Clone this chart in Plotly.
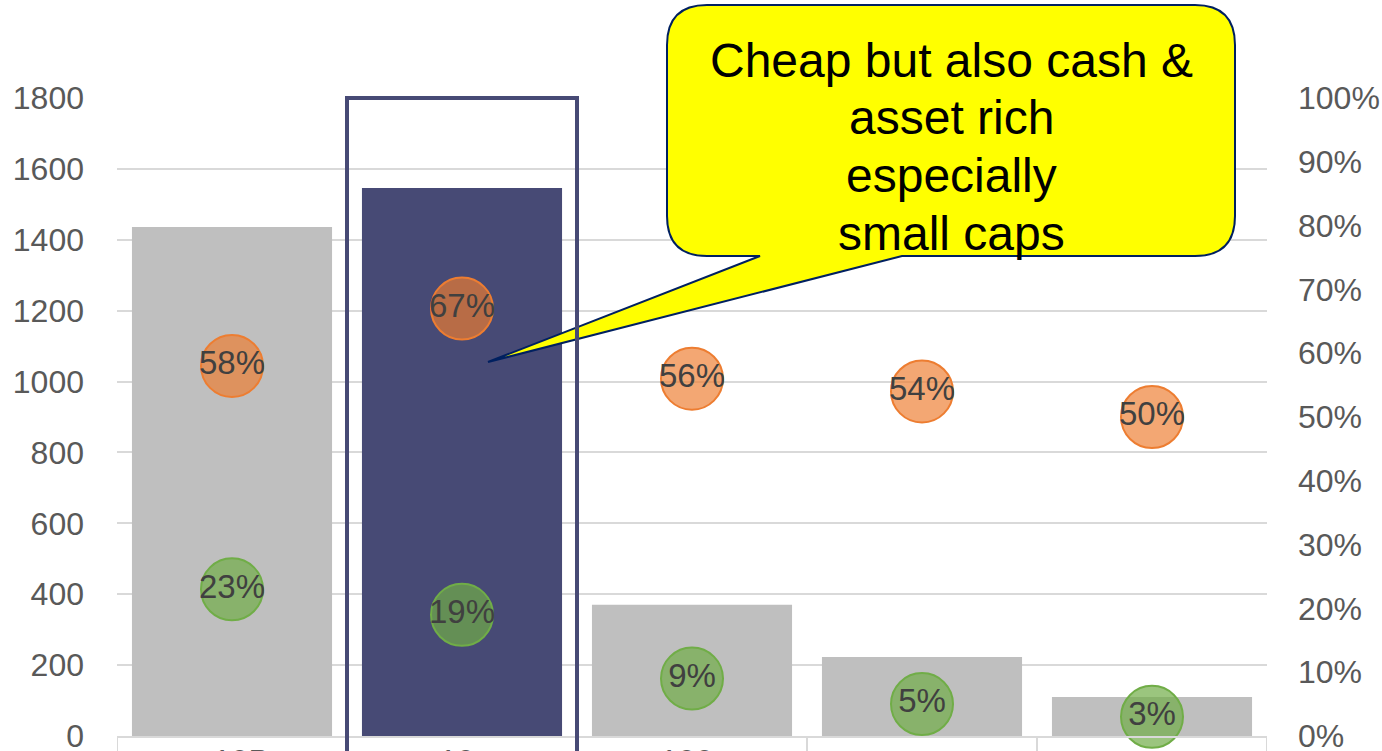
import plotly.graph_objects as go

categories = ["<10B", "10-<br>50B", "100-<br>500B", "<br>500B-1T", "<br>>1T"]
bar_values = [1436, 1546, 370, 223, 110]
bar_colors = ["#BFBFBF", "#474A75", "#BFBFBF", "#BFBFBF", "#BFBFBF"]
orange_pct = [0.58, 0.67, 0.56, 0.54, 0.50]
green_pct = [0.23, 0.19, 0.09, 0.05, 0.03]
left_ticks = [0, 200, 400, 600, 800, 1000, 1200, 1400, 1600, 1800]
right_ticks = [i / 10 for i in range(11)]
callout_lines = ["Cheap but also cash &", "asset rich", "especially", "small caps"]

W, H = 1382, 751
L, R, T, B = 117, 1267, 98, 736
FONT = "Arial, Liberation Sans, sans-serif"


def px(x):
    return (x - L) / (R - L)


def py(y):
    return (B - y) / (B - T)


fig = go.Figure()
fig.add_trace(go.Bar(x=categories, y=bar_values, marker=dict(color=bar_colors, line=dict(width=0)),
                     width=0.87, showlegend=False, hoverinfo="skip"))
fig.add_trace(go.Scatter(x=categories, y=orange_pct, yaxis="y2", mode="markers+text",
                         text=[f"{round(v*100)}%" for v in orange_pct], textposition="middle center",
                         textfont=dict(size=33, color="#404040", family=FONT),
                         marker=dict(size=62, color="rgba(237,125,49,0.68)", line=dict(color="#ED7D31", width=2)),
                         cliponaxis=False, showlegend=False))
fig.add_trace(go.Scatter(x=categories, y=green_pct, yaxis="y2", mode="markers+text",
                         text=[f"{round(v*100)}%" for v in green_pct], textposition="middle center",
                         textfont=dict(size=33, color="#404040", family=FONT),
                         marker=dict(size=62, color="rgba(112,173,71,0.70)", line=dict(color="#70AD47", width=2)),
                         cliponaxis=False, showlegend=False))

# callout bubble
l, r, t, b, rad = 667, 1235, 5, 256, 40
path = (f"M {px(l+rad)},{py(t)} L {px(r-rad)},{py(t)} Q {px(r)},{py(t)} {px(r)},{py(t+rad)} "
        f"L {px(r)},{py(b-rad)} Q {px(r)},{py(b)} {px(r-rad)},{py(b)} "
        f"L {px(902)},{py(b)} L {px(488)},{py(362)} L {px(760)},{py(b)} "
        f"L {px(l+rad)},{py(b)} Q {px(l)},{py(b)} {px(l)},{py(b-rad)} "
        f"L {px(l)},{py(t+rad)} Q {px(l)},{py(t)} {px(l+rad)},{py(t)} Z")
fig.add_shape(type="path", path=path, xref="paper", yref="paper", fillcolor="#FFFF00",
              line=dict(color="#002060", width=2), layer="above")
for i, line in enumerate(callout_lines):
    fig.add_annotation(text=line, xref="paper", yref="paper", x=px(951), y=py(60 + i * 57.7),
                       xanchor="center", yanchor="middle", showarrow=False,
                       font=dict(size=48, color="#000000", family=FONT))

# highlight rectangle around 2nd category
fig.add_shape(type="rect", xref="x", yref="paper", x0=0.5, x1=1.5, y0=-0.2, y1=1.0,
              line=dict(color="#474A75", width=4), fillcolor="rgba(0,0,0,0)", layer="above")

# table-like separators under the axis
for k in range(len(categories) + 1):
    fig.add_shape(type="line", xref="x", yref="paper", x0=k - 0.5, x1=k - 0.5, y0=0, y1=-0.1,
                  line=dict(color="#D9D9D9", width=2), layer="below")

fig.update_layout(
    width=W, height=H,
    margin=dict(l=L, r=W - R, t=T, b=H - B, autoexpand=False),
    paper_bgcolor="white", plot_bgcolor="white",
    bargap=0.13,
    font=dict(family=FONT),
    xaxis=dict(type="category", range=[-0.5, 4.5], showline=True, linecolor="#D9D9D9", linewidth=2,
               tickfont=dict(size=32, color="#595959"), ticks="", automargin=False, showgrid=False,
               ticklabelstandoff=-4, ticklabeloverflow="allow"),
    yaxis=dict(range=[0, 1800], tickvals=left_ticks, showgrid=True, gridcolor="#D9D9D9", gridwidth=2,
               zeroline=False, tickfont=dict(size=32, color="#595959"), ticklabelstandoff=32,
               automargin=False, ticklabeloverflow="allow"),
    yaxis2=dict(range=[0, 1], overlaying="y", side="right", tickvals=right_ticks, tickformat=".0%",
                showgrid=False, zeroline=False, tickfont=dict(size=32, color="#595959"),
                ticklabelstandoff=30, automargin=False, ticklabeloverflow="allow"),
)

fig.write_html("out.html")
